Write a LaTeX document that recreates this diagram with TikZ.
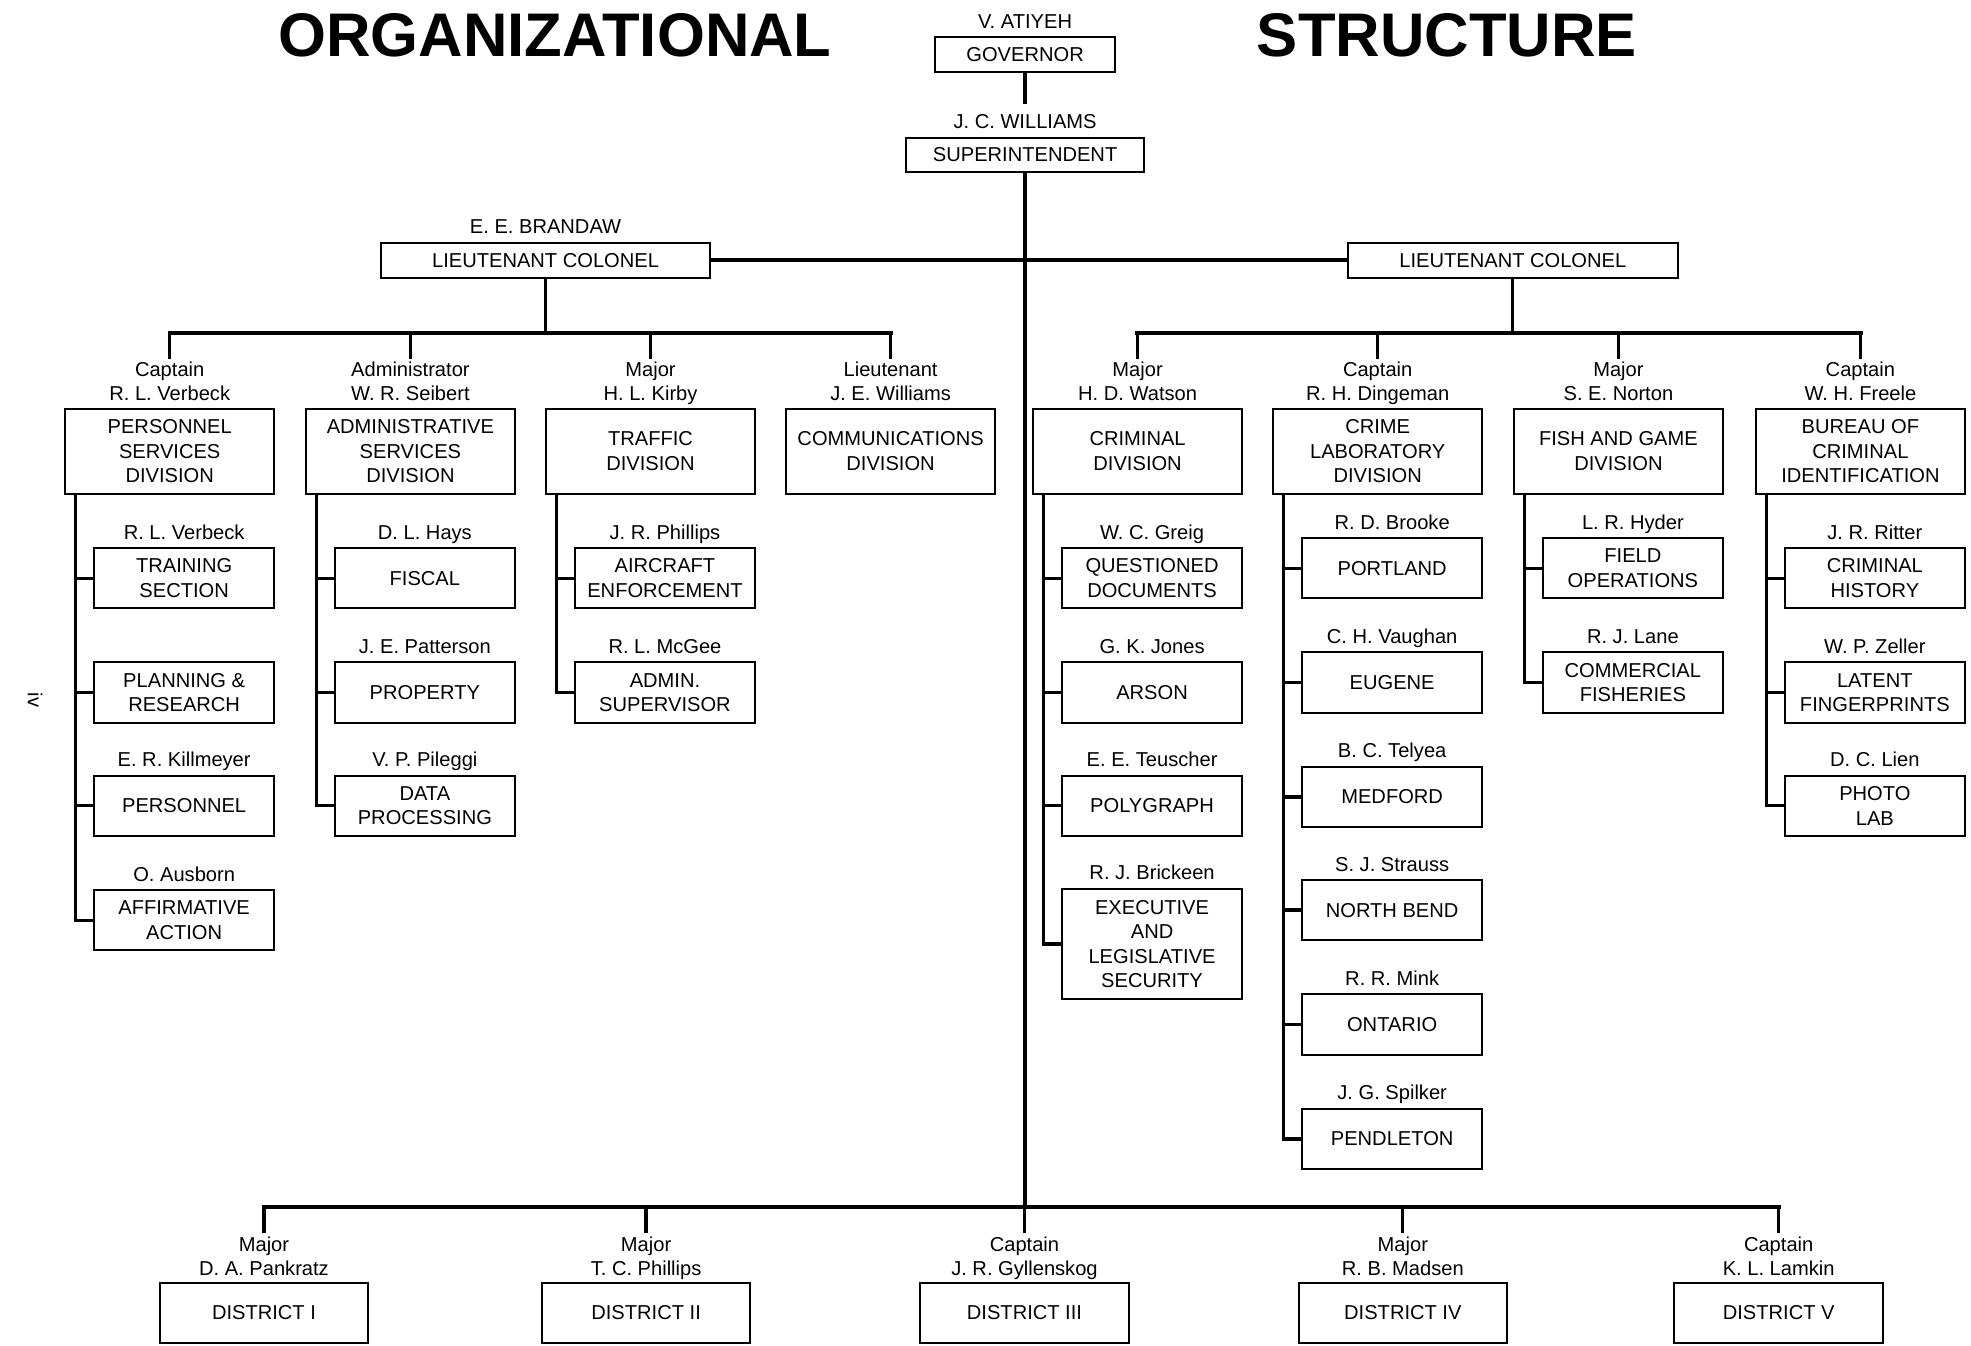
\documentclass[tikz,border=0pt]{standalone}
\usepackage{fontspec}
\setmainfont{Liberation Sans}
\usetikzlibrary{positioning}
\tikzset{
  unitbox/.style={draw,line width=1.6pt,align=center,inner sep=2pt,
    font=\fontsize{16}{19.5}\selectfont},
  divbox/.style={unitbox,minimum width=166pt,minimum height=68pt},
  secbox/.style={unitbox,minimum width=143pt,minimum height=48pt},
  distbox/.style={unitbox,minimum width=166pt,minimum height=47pt},
  namelabel/.style={align=center,inner sep=0pt,text depth=0pt,
    font=\fontsize{16}{19.5}\selectfont},
  orgline/.style={line width=2.6pt},
  bus/.style={line width=3.4pt,line cap=rect},
  headline/.style={font=\fontsize{49}{52}\selectfont\bfseries}
}

\begin{document}
\begin{tikzpicture}[x=1pt,y=-1pt]
\useasboundingbox (0,0) rectangle (1568,1070);
\node[headline] (orgword) at (441.5,28) {ORGANIZATIONAL};
\node[headline] (structword) at (1151,28) {STRUCTURE};
\node[namelabel,rotate=-90] (pagenum) at (28,557) {iv};
% top of the chart
\node[unitbox,minimum width=143pt,minimum height=28pt] (governor) at (815.5,43.5) {GOVERNOR};
\node[namelabel,above=6pt of governor] (governor-who) {V. ATIYEH};
\node[unitbox,minimum width=189pt,minimum height=27pt] (super) at (815.5,123) {SUPERINTENDENT};
\node[namelabel,above=6pt of super] (super-who) {J. C. WILLIAMS};
\draw[orgline] (governor.south) -- ([yshift=8pt]super-who.north);
\node[unitbox,minimum width=262pt,minimum height=28pt] (ltcol-w) at (434,207) {LIEUTENANT COLONEL};
\node[namelabel,above=6pt of ltcol-w] (ltcol-w-who) {E. E. BRANDAW};
\node[unitbox,minimum width=262pt,minimum height=28pt] (ltcol-e) at (1203.5,207) {LIEUTENANT COLONEL};
\draw[bus] (ltcol-w.east) -- (ltcol-e.west);
\coordinate (wbus) at (434,265);
\coordinate (ebus) at (1203.5,265);
\coordinate (dbus) at (815.5,960);
\draw[orgline] (super.south) -- (dbus);
\draw[orgline] (ltcol-w.south) -- (wbus);
\draw[orgline] (ltcol-e.south) -- (ebus);
% divisions
\foreach \nm/\x/\who/\txt in {
  personnel/135/Captain\\R. L. Verbeck/PERSONNEL\\SERVICES\\DIVISION,
  admin/326.5/Administrator\\W. R. Seibert/ADMINISTRATIVE\\SERVICES\\DIVISION,
  traffic/517.5/Major\\H. L. Kirby/TRAFFIC\\DIVISION,
  comm/708.5/Lieutenant\\J. E. Williams/COMMUNICATIONS\\DIVISION,
  criminal/905/Major\\H. D. Watson/CRIMINAL\\DIVISION,
  crimelab/1096/Captain\\R. H. Dingeman/CRIME\\LABORATORY\\DIVISION,
  fishgame/1287.5/Major\\S. E. Norton/FISH AND GAME\\DIVISION,
  bureau/1480/Captain\\W. H. Freele/BUREAU OF\\CRIMINAL\\IDENTIFICATION}{
  \node[divbox] (\nm) at (\x,359) {\txt};
  \node[namelabel,above=5pt of \nm] (\nm-who) {\who};
}
\draw[bus] (wbus -| personnel) -- (wbus -| comm);
\draw[bus] (ebus -| criminal) -- (ebus -| bureau);
\foreach \nm in {personnel,admin,traffic,comm,criminal,crimelab,fishgame,bureau}
  \draw[orgline] (wbus -| \nm) -- ([yshift=2pt]\nm-who.north);
% sections under the divisions
\foreach \nm/\row/\x/\y/\who/\txt in {
  personnel/1/146.5/460/R. L. Verbeck/TRAINING\\SECTION,
  personnel/3/146.5/641/E. R. Killmeyer/PERSONNEL,
  personnel/4/146.5/732/O. Ausborn/AFFIRMATIVE\\ACTION,
  admin/1/338/460/D. L. Hays/FISCAL,
  admin/2/338/551/J. E. Patterson/PROPERTY,
  admin/3/338/641/V. P. Pileggi/DATA\\PROCESSING,
  traffic/1/529/460/J. R. Phillips/AIRCRAFT\\ENFORCEMENT,
  traffic/2/529/551/R. L. McGee/ADMIN.\\SUPERVISOR,
  criminal/1/916.5/460/W. C. Greig/QUESTIONED\\DOCUMENTS,
  criminal/2/916.5/551/G. K. Jones/ARSON,
  criminal/3/916.5/641/E. E. Teuscher/POLYGRAPH,
  crimelab/1/1107.5/452/R. D. Brooke/PORTLAND,
  crimelab/2/1107.5/543/C. H. Vaughan/EUGENE,
  crimelab/3/1107.5/634/B. C. Telyea/MEDFORD,
  crimelab/4/1107.5/724/S. J. Strauss/NORTH BEND,
  crimelab/5/1107.5/815/R. R. Mink/ONTARIO,
  crimelab/6/1107.5/906/J. G. Spilker/PENDLETON,
  fishgame/1/1299/452/L. R. Hyder/FIELD\\OPERATIONS,
  fishgame/2/1299/543/R. J. Lane/COMMERCIAL\\FISHERIES,
  bureau/1/1491.5/460/J. R. Ritter/CRIMINAL\\HISTORY,
  bureau/2/1491.5/551/W. P. Zeller/LATENT\\FINGERPRINTS,
  bureau/3/1491.5/641/D. C. Lien/PHOTO\\LAB}{
  \node[secbox] (\nm-\row) at (\x,\y) {\txt};
  \node[namelabel,above=6pt of \nm-\row] (\nm-\row-who) {\who};
  \draw[orgline] ([xshift=9pt]\nm.south west) |- (\nm-\row.west);
}
\node[secbox] (personnel-2) at (146.5,551) {PLANNING \&\\RESEARCH};
\draw[orgline] ([xshift=9pt]personnel.south west) |- (personnel-2.west);
\node[secbox,minimum height=88pt] (criminal-4) at (916.5,751) {EXECUTIVE\\AND\\LEGISLATIVE\\SECURITY};
\node[namelabel,above=6pt of criminal-4] (criminal-4-who) {R. J. Brickeen};
\draw[orgline] ([xshift=9pt]criminal.south west) |- (criminal-4.west);
% districts
\foreach \nm/\x/\who/\txt in {
  dist1/210/Major\\D. A. Pankratz/DISTRICT I,
  dist2/514/Major\\T. C. Phillips/DISTRICT II,
  dist3/815/Captain\\J. R. Gyllenskog/DISTRICT III,
  dist4/1116/Major\\R. B. Madsen/DISTRICT IV,
  dist5/1415/Captain\\K. L. Lamkin/DISTRICT V}{
  \node[distbox] (\nm) at (\x,1044.5) {\txt};
  \node[namelabel,above=5pt of \nm] (\nm-who) {\who};
  \draw[orgline] (dbus -| \nm) -- ([yshift=3pt]\nm-who.north);
}
\draw[bus] (dbus -| dist1) -- (dbus -| dist5);
\end{tikzpicture}
\end{document}
